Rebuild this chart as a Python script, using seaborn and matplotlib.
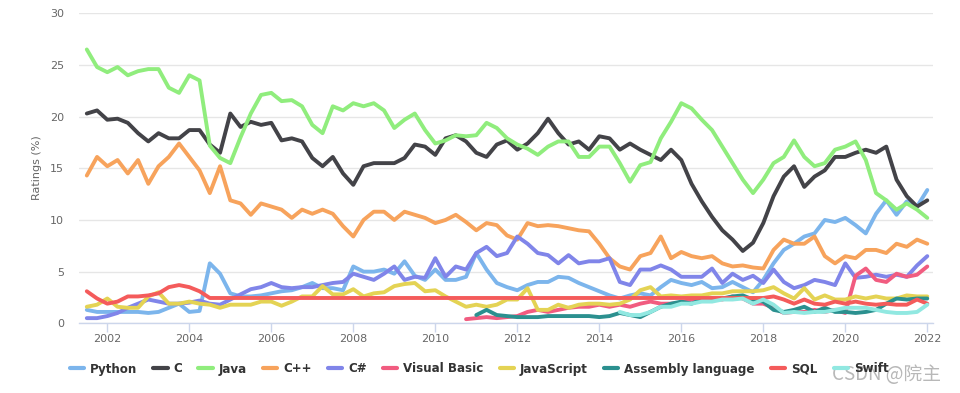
import matplotlib
matplotlib.use("Agg")  # no display in the sandbox

import numpy as np
import pandas as pd
import matplotlib.pyplot as plt
import seaborn as sns
from matplotlib.lines import Line2D

# -----------------------------------------------------------------------
# Data: quarterly readings (mid 2001 .. Jan 2022), ratings in %
# -----------------------------------------------------------------------
quarters = np.arange(2001.5, 2022.01, 0.25)

python_vals = [1.3, 1.1,
               1.1, 1.1, 1.1, 1.1,   # 2002
               1.0, 1.1, 1.5, 1.9,   # 2003
               1.1, 1.2, 5.8, 4.8,   # 2004
               2.9, 2.6, 2.6, 2.7,   # 2005
               2.9, 3.1, 3.2, 3.5,   # 2006
               3.9, 3.4, 3.4, 3.2,   # 2007
               5.5, 5.0, 5.0, 5.2,   # 2008
               4.8, 6.0, 4.6, 4.2,   # 2009
               5.2, 4.2, 4.2, 4.5,   # 2010
               6.8, 5.2, 3.9, 3.5,   # 2011
               3.2, 3.7, 4.0, 4.0,   # 2012
               4.5, 4.4, 3.9, 3.5,   # 2013
               3.1, 2.7, 2.4, 2.7,   # 2014
               2.9, 2.7, 3.5, 4.2,   # 2015
               3.9, 3.7, 4.0, 3.4,   # 2016
               3.5, 4.0, 3.5, 3.0,   # 2017
               4.2, 5.8, 7.1, 7.7,   # 2018
               8.4, 8.7, 10.0, 9.8,  # 2019
               10.2, 9.5, 8.7, 10.6, # 2020
               11.9, 10.5, 11.8, 11.3,  # 2021
               12.9]

c_vals = [20.3, 20.6,
          19.7, 19.8, 19.4, 18.4,
          17.6, 18.4, 17.9, 17.9,
          18.7, 18.7, 17.3, 16.5,
          20.3, 19.0, 19.5, 19.2,
          19.4, 17.7, 17.9, 17.6,
          16.0, 15.2, 16.1, 14.5,
          13.4, 15.2, 15.5, 15.5,
          15.5, 16.0, 17.3, 17.1,
          16.3, 17.9, 18.2, 17.6,
          16.5, 16.1, 17.3, 17.7,
          16.8, 17.4, 18.4, 19.8,
          18.4, 17.3, 17.6, 16.8,
          18.1, 17.9, 16.8, 17.4,
          16.8, 16.3, 15.8, 16.8,
          15.8, 13.5, 11.8, 10.3,
          9.0, 8.1, 7.0, 7.8,
          9.7, 12.3, 14.2, 15.2,
          13.2, 14.2, 14.8, 16.1,
          16.1, 16.5, 16.8, 16.5,
          17.1, 13.9, 12.3, 11.3,
          11.9]

java_vals = [26.5, 24.8,
             24.3, 24.8, 24.0, 24.4,
             24.6, 24.6, 22.8, 22.3,
             24.0, 23.5, 17.2, 16.0,
             15.5, 18.0, 20.3, 22.1,
             22.3, 21.5, 21.6, 21.0,
             19.2, 18.4, 21.0, 20.6,
             21.3, 21.0, 21.3, 20.6,
             18.9, 19.7, 20.3, 18.7,
             17.4, 17.7, 18.2, 18.1,
             18.2, 19.4, 18.9, 17.9,
             17.3, 16.9, 16.3, 17.1,
             17.6, 17.6, 16.1, 16.1,
             17.1, 17.1, 15.5, 13.7,
             15.3, 15.6, 17.9, 19.5,
             21.3, 20.8, 19.7, 18.7,
             17.1, 15.5, 13.9, 12.6,
             13.9, 15.5, 16.1, 17.7,
             16.1, 15.2, 15.5, 16.8,
             17.1, 17.6, 15.8, 12.6,
             11.9, 11.0, 11.6, 11.0,
             10.2]

cpp_vals = [14.3, 16.1,
            15.2, 15.8, 14.5, 15.8,
            13.5, 15.2, 16.1, 17.4,
            16.1, 14.8, 12.6, 15.2,
            11.9, 11.6, 10.5, 11.6,
            11.3, 11.0, 10.2, 11.0,
            10.6, 11.0, 10.6, 9.4,
            8.4, 10.0, 10.8, 10.8,
            10.0, 10.8, 10.5, 10.2,
            9.7, 10.0, 10.5, 9.8,
            9.0, 9.7, 9.5, 8.5,
            8.1, 9.7, 9.4, 9.5,
            9.4, 9.2, 9.0, 8.9,
            7.7, 6.3, 5.5, 5.2,
            6.5, 6.8, 8.4, 6.3,
            6.9, 6.5, 6.3, 6.5,
            5.8, 5.5, 5.6, 5.4,
            5.3, 7.1, 8.1, 7.7,
            7.7, 8.4, 6.5, 5.8,
            6.5, 6.3, 7.1, 7.1,
            6.8, 7.7, 7.4, 8.1,
            7.7]

csharp_vals = [0.5, 0.5,
               0.7, 1.0, 1.5, 1.9,
               2.3, 2.1, 1.9, 1.9,
               2.0, 2.2, 1.9, 1.8,
               2.3, 2.8, 3.3, 3.5,
               3.9, 3.5, 3.4, 3.5,
               3.5, 3.7, 3.9, 4.0,
               4.8, 4.5, 4.2, 4.8,
               5.5, 4.2, 4.5, 4.4,
               6.3, 4.5, 5.5, 5.2,
               6.8, 7.4, 6.5, 6.8,
               8.4, 7.7, 6.8, 6.6,
               5.8, 6.6, 5.8, 6.0,
               6.0, 6.3, 4.0, 3.7,
               5.2, 5.2, 5.6, 5.2,
               4.5, 4.5, 4.5, 5.3,
               3.9, 4.8, 4.2, 4.6,
               3.9, 5.2, 4.0, 3.4,
               3.7, 4.2, 4.0, 3.7,
               5.8, 4.4, 4.5, 4.7,
               4.5, 4.7, 4.5, 5.6,
               6.5]

# Visual Basic starts Q4 2010
vb_vals = [np.nan] * 37 + [
    0.4,
    0.5, 0.6, 0.5, 0.6,
    0.7, 1.1, 1.3, 1.1,
    1.3, 1.5, 1.6, 1.6,
    1.8, 1.6, 1.8, 1.6,
    1.9, 2.1, 1.9, 1.9,
    2.0, 2.3, 2.3, 2.4,
    2.3, 2.6, 2.4, 1.9,
    1.9, 1.5, 1.0, 1.1,
    1.1, 1.3, 1.1, 1.3,
    1.0, 4.6, 5.3, 4.2,
    4.0, 4.8, 4.5, 4.7,
    5.5]

js_vals = [1.6, 1.8,
           2.4, 1.6, 1.5, 1.5,
           2.6, 3.0, 1.9, 1.9,
           2.1, 1.9, 1.8, 1.5,
           1.8, 1.8, 1.8, 2.1,
           2.1, 1.7, 2.1, 2.6,
           2.6, 3.6, 2.8, 2.8,
           3.3, 2.6, 2.9, 3.0,
           3.6, 3.8, 3.9, 3.1,
           3.2, 2.6, 2.1, 1.6,
           1.8, 1.6, 1.8, 2.3,
           2.3, 3.4, 1.3, 1.3,
           1.8, 1.5, 1.8, 1.9,
           1.9, 1.8, 1.9, 2.3,
           3.2, 3.5, 2.6, 2.7,
           2.6, 2.7, 2.7, 2.9,
           2.9, 3.1, 3.1, 3.1,
           3.2, 3.5, 2.9, 2.4,
           3.4, 2.3, 2.7, 2.3,
           2.3, 2.6, 2.4, 2.6,
           2.4, 2.4, 2.7, 2.6,
           2.6]

# Assembly language starts 2011
asm_vals = [np.nan] * 38 + [
    0.8, 1.3, 0.8, 0.7,
    0.6, 0.6, 0.6, 0.7,
    0.7, 0.7, 0.7, 0.7,
    0.6, 0.7, 1.0, 0.8,
    0.6, 1.1, 1.6, 1.9,
    2.1, 1.9, 2.3, 2.3,
    2.4, 2.6, 2.7, 2.3,
    2.1, 1.3, 1.1, 1.3,
    1.6, 1.1, 1.5, 1.1,
    1.1, 1.0, 1.1, 1.3,
    1.9, 2.4, 2.3, 2.4,
    2.4]

sql_vals = [3.1, 2.4,
            1.9, 2.1, 2.6, 2.6,
            2.7, 2.9, 3.5, 3.7,
            3.5, 3.1, 2.45, 2.45,
            2.45, 2.45, 2.45, 2.45,
            2.45, 2.45, 2.45, 2.45,
            2.45, 2.45, 2.45, 2.45,
            2.45, 2.45, 2.45, 2.45,
            2.45, 2.45, 2.45, 2.45,
            2.45, 2.45, 2.45, 2.45,
            2.45, 2.45, 2.45, 2.45,
            2.45, 2.45, 2.45, 2.45,
            2.45, 2.45, 2.45, 2.45,
            2.45, 2.45, 2.45, 2.45,
            2.45, 2.45, 2.45, 2.45,
            2.45, 2.45, 2.45, 2.45,
            2.45, 2.45, 2.45, 2.45,
            2.45, 2.6, 2.3, 1.9,
            2.3, 1.9, 1.8, 2.1,
            1.9, 2.1, 1.9, 1.8,
            1.9, 1.8, 1.8, 2.3,
            1.9]

# Swift starts mid 2014
swift_vals = [np.nan] * 52 + [
    1.1, 0.8,
    0.8, 1.1, 1.6, 1.6,
    1.9, 1.9, 2.1, 2.1,
    2.3, 2.3, 2.4, 1.9,
    2.3, 1.8, 1.0, 1.1,
    1.0, 1.1, 1.1, 1.3,
    1.5, 1.5, 1.5, 1.3,
    1.1, 1.0, 1.0, 1.1,
    1.8]

languages = ["Python", "C", "Java", "C++", "C#", "Visual Basic",
             "JavaScript", "Assembly language", "SQL", "Swift"]
colors = ["#7cb5ec", "#434348", "#90ed7d", "#f7a35c", "#8085e9",
          "#f15c80", "#e4d354", "#2b908f", "#f45b5b", "#91e8e1"]
series = [python_vals, c_vals, java_vals, cpp_vals, csharp_vals,
          vb_vals, js_vals, asm_vals, sql_vals, swift_vals]

df = pd.concat(
    [pd.DataFrame({"year": quarters, "rating": vals, "language": name})
     for name, vals in zip(languages, series)],
    ignore_index=True,
)

# -----------------------------------------------------------------------
# Plot
# -----------------------------------------------------------------------
sns.set_style("white")
plt.rcParams["font.family"] = ["DejaVu Sans"]

fig = plt.figure(figsize=(9.6, 3.93), dpi=100)
ax = fig.add_axes([79.3 / 960, 1 - 323.3 / 393, 853.4 / 960, 310 / 393])

sns.lineplot(data=df, x="year", y="rating", hue="language",
             hue_order=languages, palette=colors, linewidth=2.8,
             estimator=None, legend=False, ax=ax)
for line in ax.get_lines():
    line.set_solid_joinstyle("round")
    line.set_solid_capstyle("round")

ax.set_xlim(2001.317, 2022.132)
ax.set_ylim(0, 30)
ax.set_xticks(range(2002, 2023, 2))
ax.set_yticks(range(0, 31, 5))
ax.yaxis.grid(True, color="#e6e6e6", linewidth=1)
ax.xaxis.grid(False)
ax.set_axisbelow(True)
for side in ["top", "right", "left"]:
    ax.spines[side].set_visible(False)
ax.spines["bottom"].set_color("#ccd6eb")
ax.spines["bottom"].set_linewidth(1)
ax.tick_params(axis="x", length=6.5, width=1, color="#ccd6eb",
               labelcolor="#666666", labelsize=8, pad=1, bottom=True)
ax.tick_params(axis="y", length=0, labelcolor="#666666", labelsize=8, pad=11)
ax.set_xlabel("")
ax.set_ylabel("")
fig.text(37 / 960, 1 - 168 / 393, "Ratings (%)", rotation=90,
         ha="center", va="center", fontsize=8, color="#666666")

handles = [Line2D([0], [0], color=c, linewidth=3) for c in colors]
fig.legend(handles, languages, loc="center", bbox_to_anchor=(0.499, 1 - 369 / 393),
           ncol=10, frameon=False, prop={"weight": "bold", "size": 8.6},
           labelcolor="#333333", handlelength=1.2, handletextpad=0.5,
           columnspacing=1.35)

# watermark
fig.text(887 / 960, 1 - 374 / 393, "CSDN @院主", fontsize=13.5, color="#b8b8b8",
         ha="center", va="center", family=["Noto Sans CJK SC", "DejaVu Sans"])

fig.savefig("out.png", dpi=100)
